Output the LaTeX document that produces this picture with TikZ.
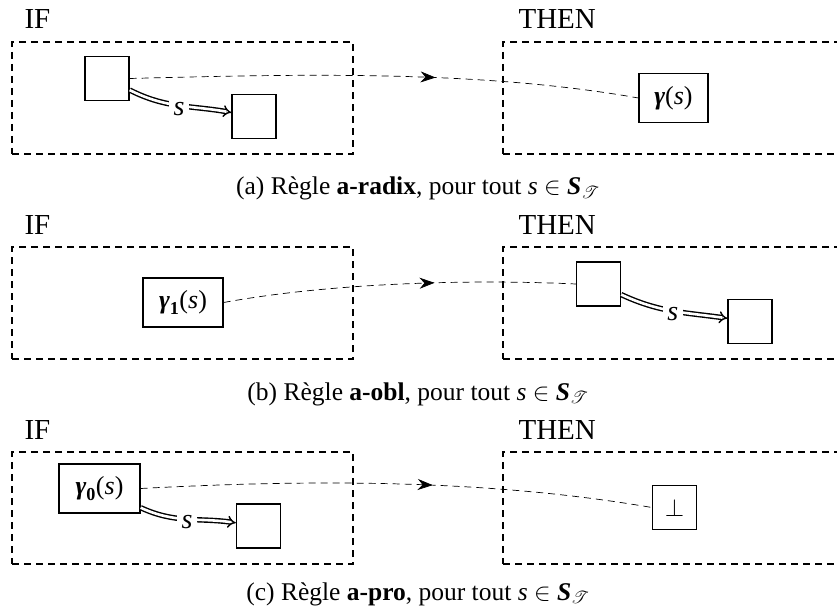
\documentclass[tikz,border=0pt]{standalone}
\usepackage{amsmath,amssymb,bm,mathrsfs}
\usepackage{fontspec}
\setmainfont{Liberation Serif}
\usetikzlibrary{arrows.meta,decorations.markings}
\newcommand{\bgam}{\textbf{\textit{γ}}}
\begin{document}
\begin{tikzpicture}[x=1pt,y=1pt,
  every node/.style={font=\fontsize{26}{30}\selectfont},
  frame/.style={draw,line width=1.3pt,dash pattern=on 7pt off 5pt,minimum width=341pt,minimum height=112pt,inner sep=0pt},
  sq/.style={draw,line width=1.3pt,minimum size=44pt,inner sep=0pt},
  lbox/.style={draw,line width=1.3pt,minimum height=49pt,inner ysep=5pt,inner xsep=4pt},
  conn/.style={dash pattern=on 7pt off 5pt,line width=0.7pt,postaction={decorate},
    decoration={markings,mark=at position #1 with {\arrow{Stealth[length=15pt,width=11pt]}}}},
  dbl/.style={double,double distance=2.6pt,line width=1.4pt,-{Implies}},
  lab/.style={fill=white,inner xsep=0.45em,inner ysep=0.2em,yshift=-3pt,font=\fontsize{28}{30}\selectfont},
  title/.style={anchor=base west,font=\fontsize{29}{33}\selectfont},
  captxt/.style={anchor=base,font=\fontsize{25.5}{30}\selectfont}]
\useasboundingbox (0,0) rectangle (837,-612);
% ---------- panel (a)
\node[frame] (aif) at (182.5,-98) {};
\node[frame] (athen) at (673.5,-98) {};
\node[title] (aIF) at (21,-29) {IF};
\node[title] (aTHEN) at (515,-29) {THEN};
\node[sq] (a1) at (107,-78.5) {};
\node[sq] (a2) at (254,-116.5) {};
\node[lbox,minimum width=69pt] (ag) at (673.5,-98) {\bgam(\textit{s})};
\draw[dbl] (a1) to[out=-27,in=170] node[lab] {\textit{s}} (a2);
\draw[conn=0.6] (a1.east) .. controls (300,-74) and (480,-70) .. (ag.west);
\node[captxt] (capa) at (418,-195) {(a) Règle \textbf{a-radix}, pour tout \textit{s} $\in$ \textbf{\textit{S}}$_{\mathscr{T}}$};
% ---------- panel (b)
\node[frame] (bif) at (182.5,-303) {};
\node[frame] (bthen) at (673.5,-303) {};
\node[title] (bIF) at (21,-234) {IF};
\node[title] (bTHEN) at (515,-234) {THEN};
\node[lbox,minimum width=80pt] (bg) at (183,-302.5) {$\bgam_{\textbf{1}}$(\textit{s})};
\node[sq] (b1) at (598.5,-284) {};
\node[sq] (b2) at (750,-321.5) {};
\draw[dbl] (b1) to[out=-25,in=172] node[lab] {\textit{s}} (b2);
\draw[conn=0.6] (bg.east) .. controls (330,-283) and (470,-279) .. (b1.west);
\node[captxt] (capb) at (418,-400) {(b) Règle \textbf{a-obl}, pour tout \textit{s} $\in$ \textbf{\textit{S}}$_{\mathscr{T}}$};
% ---------- panel (c)
\node[frame] (cif) at (182.5,-508) {};
\node[frame] (cthen) at (673.5,-508) {};
\node[title] (cIF) at (21,-439) {IF};
\node[title] (cTHEN) at (515,-439) {THEN};
\node[lbox,minimum width=81pt] (cg) at (99.5,-488.5) {$\bgam_{\textbf{0}}$(\textit{s})};
\node[sq] (c1) at (258.5,-526) {};
\node[sq] (cb) at (674.5,-507.5) {$\perp$};
\draw[dbl] (cg) to[out=-25,in=172] node[lab] {\textit{s}} (c1);
\draw[conn=0.57] (cg.east) .. controls (300,-480) and (480,-478) .. (cb.west);
\node[captxt] (capc) at (418,-600) {(c) Règle \textbf{a-pro}, pour tout \textit{s} $\in$ \textbf{\textit{S}}$_{\mathscr{T}}$};
\end{tikzpicture}
\end{document}
